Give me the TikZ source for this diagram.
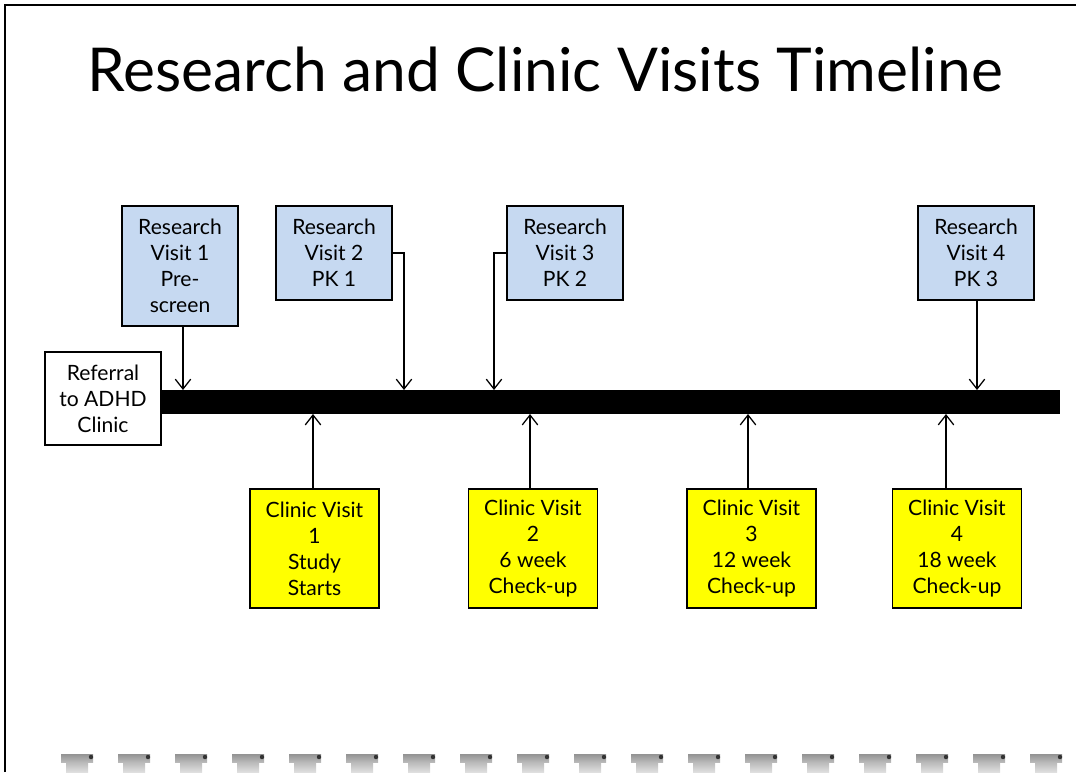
\documentclass[tikz,border=0pt]{standalone}
\usepackage{fontspec}
\setmainfont{Lato}
\usepackage{tikz}
\usetikzlibrary{arrows.meta}

\definecolor{resblue}{RGB}{198,217,241}
\definecolor{clinyellow}{RGB}{255,255,0}

\tikzset{
  box/.style={draw=black, line width=1.2pt, align=center, inner sep=0pt,
    font=\fontsize{15}{18.5}\selectfont},
  research/.style={box, fill=resblue, minimum width=2.9cm},
  clinic/.style={box, fill=clinyellow, minimum width=3.225cm, minimum height=2.975cm},
  vis/.style={line width=0.9pt, -{Straight Barb[length=7pt,width=11pt,line width=0.9pt]}},
}

\begin{document}
\begin{tikzpicture}[x=0.025cm, y=-0.025cm]
            \useasboundingbox (0,0) rectangle (1076,772);

            % Frame
            \draw[line width=1.8pt] (5,772) -- (5,5) -- (1076,5);

            % Title
            \node (title) at (545,69) {\fontsize{43}{50}\selectfont Research and Clinic Visits Timeline};

            % The timeline
            \node[fill=black, minimum width=22.475cm, minimum height=0.6cm, inner sep=0pt] (bar) at (610.5,402) {};
            \node[box, fill=white, minimum width=2.9cm, minimum height=2.325cm] (ref) at (103,398.5) {Referral\\to ADHD\\Clinic};

            % Research visits (above)
            \node[research, minimum height=3.0cm] (rv1) at (180,266) {Research\\Visit 1\\Pre-\\screen};
            \node[research, minimum height=2.35cm] (rv2) at (334,253) {Research\\Visit 2\\PK 1};
            \node[research, minimum height=2.35cm] (rv3) at (565,253) {Research\\Visit 3\\PK 2};
            \node[research, minimum height=2.35cm] (rv4) at (976,253) {Research\\Visit 4\\PK 3};

            % Clinic visits (below)
            \node[clinic] (cv1) at (314.5,548.5) {Clinic Visit\\1\\Study\\Starts};
            \node[clinic] (cv2) at (533,548.5) {Clinic Visit\\2\\6 week\\Check-up};
            \node[clinic] (cv3) at (751.5,548.5) {Clinic Visit\\3\\12 week\\Check-up};
            \node[clinic] (cv4) at (957,548.5) {Clinic Visit\\4\\18 week\\Check-up};

            % Where the arrows meet the bar
            \coordinate (t1) at (183,390);
            \coordinate (t2) at (404,390);
            \coordinate (t3) at (494,390);
            \coordinate (t4) at (977,390);
            \coordinate (b1) at (313,414);
            \coordinate (b2) at (530,414);
            \coordinate (b3) at (748,414);
            \coordinate (b4) at (946,414);

            % Arrows
            \draw[vis] (rv1.south -| t1) -- (t1);
            \draw[vis] (rv2.east) -| (t2);
            \draw[vis] (rv3.west) -| (t3);
            \draw[vis] (rv4.south -| t4) -- (t4);
            \foreach \i in {1,...,4} \draw[vis] (cv\i.north -| b\i) -- (b\i);

            % Binding at the bottom
            \foreach \x in {0,...,17} {
              \shade[top color=gray!85, bottom color=gray!55] (77+\x*57-16,754) rectangle (77+\x*57+16,762);
              \shade[top color=gray!55, bottom color=gray!25] (77+\x*57-11,762) rectangle (77+\x*57+11,772);
              \fill[black!80] (77+\x*57+14,757) circle (2.2);
            }

        \end{tikzpicture}
\end{document}
